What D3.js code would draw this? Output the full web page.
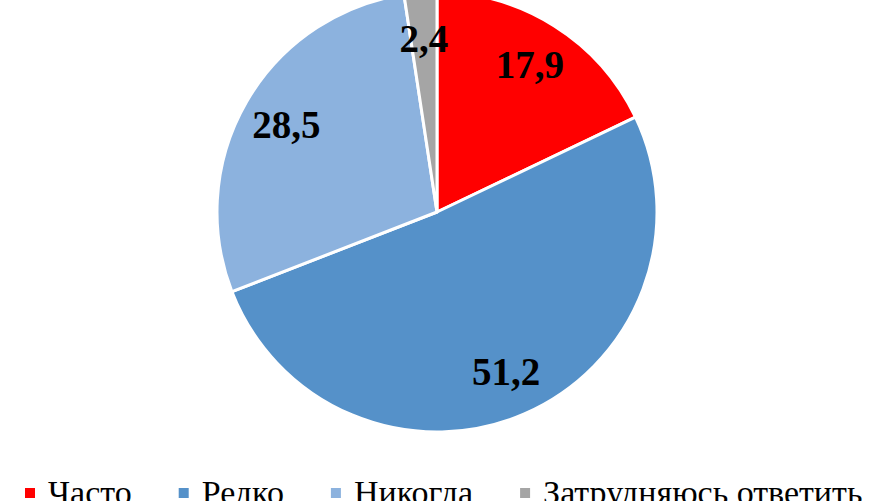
<!DOCTYPE html>
<html>
<head>
<meta charset="utf-8">
<script src="https://cdn.jsdelivr.net/npm/d3@7"></script>
<style>
  html, body { margin: 0; padding: 0; background: #fff; overflow: hidden; }
  svg { display: block; }
</style>
</head>
<body>
<svg id="chart" width="891" height="501"></svg>
<script>

// data
var categories = ["Часто", "Редко", "Никогда", "Затрудняюсь ответить"];
var values     = [17.9, 51.2, 28.5, 2.4];
var labels     = ["17,9", "51,2", "28,5", "2,4"];
var colors     = ["#ff0000", "#5591c9", "#8cb2de", "#a5a5a5"];

var width = 891, height = 501,
    cx = 437, cy = 212,
    radius = 220,
    labelRadius = 174;

var svg = d3.select("#chart");

var pie = d3.pie()
    .sort(null)
    .value(function (d) { return d; });

var arc = d3.arc()
    .innerRadius(0)
    .outerRadius(radius);

var labelArc = d3.arc()
    .innerRadius(labelRadius)
    .outerRadius(labelRadius);

var g = svg.append("g")
    .attr("transform", "translate(" + cx + "," + cy + ")");

var slices = pie(values);

g.selectAll("path.slice")
    .data(slices)
    .enter()
    .append("path")
    .attr("class", "slice")
    .attr("d", arc)
    .attr("fill", function (d, i) { return colors[i]; })
    .attr("stroke", "#fff")
    .attr("stroke-width", 3)
    .attr("stroke-linejoin", "round");

g.selectAll("text.value")
    .data(slices)
    .enter()
    .append("text")
    .attr("class", "value")
    .attr("transform", function (d) { return "translate(" + labelArc.centroid(d) + ")"; })
    .attr("text-anchor", "middle")
    .attr("dy", "0.34em")
    .style("font-family", "'Liberation Serif', 'Times New Roman', serif")
    .style("font-weight", "bold")
    .style("font-size", "39px")
    .attr("fill", "#000")
    .text(function (d, i) { return labels[i]; });

// legend, laid out left to right and centred
var legend = svg.append("g").attr("class", "legend");

var items = legend.selectAll("g.item")
    .data(categories)
    .enter()
    .append("g")
    .attr("class", "item");

items.append("rect")
    .attr("width", 10)
    .attr("height", 10)
    .attr("y", -16)
    .attr("fill", function (d, i) { return colors[i]; });

items.append("text")
    .attr("x", 23)
    .style("font-family", "'Liberation Serif', 'Times New Roman', serif")
    .style("font-size", "34px")
    .attr("fill", "#000")
    .text(function (d) { return d; });

var x = 0, gap = 47;
items.each(function () {
    var item = d3.select(this),
        w = 23 + item.select("text").node().getComputedTextLength();
    item.attr("transform", "translate(" + x + ",0)");
    x += w + gap;
});
var total = x - gap;

legend.attr("transform", "translate(" + Math.round(width / 2 - 2 - total / 2) + ",504)");

</script>
</body>
</html>
